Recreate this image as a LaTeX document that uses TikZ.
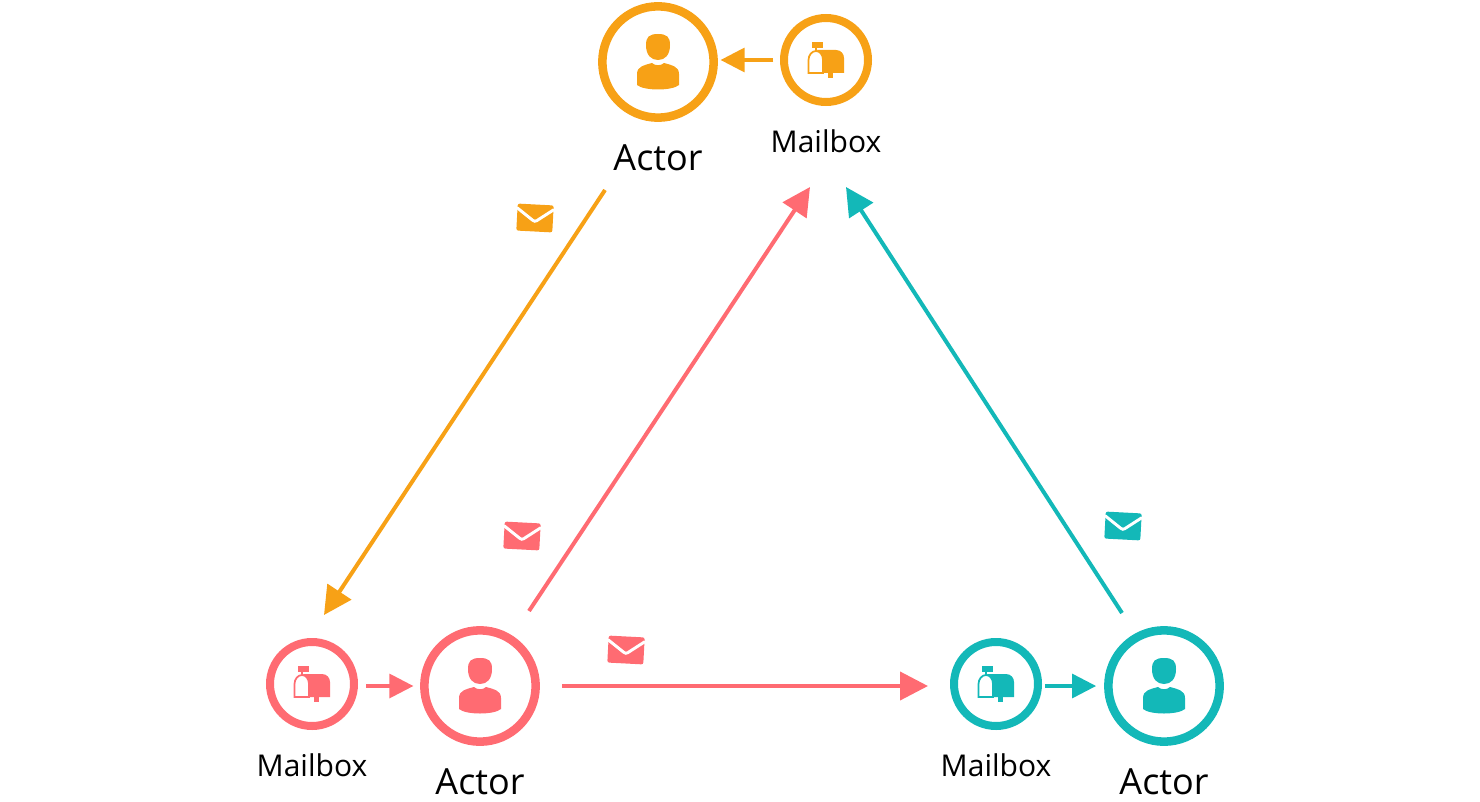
\documentclass[tikz,border=0pt]{standalone}
\usepackage{fontspec}
\setmainfont{Open Sans}
\usetikzlibrary{arrows.meta, positioning}
\definecolor{mailorange}{HTML}{F7A116}
\definecolor{mailred}{HTML}{FF6B72}
\definecolor{mailteal}{HTML}{13B8B8}

\begin{document}
\begin{tikzpicture}[
    x=0.75pt, y=-0.75pt,
    actornode/.style={circle, draw=#1, line width=6.4pt, minimum size=83.5pt, inner sep=0pt},
    boxnode/.style={circle, draw=#1, line width=6pt, minimum size=63pt, inner sep=0pt},
    actortext/.style={font=\fontsize{27}{27}\selectfont, inner sep=0pt},
    boxtext/.style={font=\fontsize{22.5}{22.5}\selectfont, inner sep=0pt},
    bigarrow/.style={-{Triangle[length=21pt, width=21pt]}, line width=3pt, draw=#1},
    smallarrow/.style={-{Triangle[length=18pt, width=18pt]}, line width=2.4pt, draw=#1},
    pics/personicon/.style={code={
        \fill[#1] (0,-28) .. controls (9,-28) and (12,-25) .. (12,-17)
            .. controls (12,-7) and (7,-2) .. (0,-2)
            .. controls (-7,-2) and (-12,-7) .. (-12,-17)
            .. controls (-12,-25) and (-9,-28) .. (0,-28) -- cycle;
        \fill[#1] (-21,23) .. controls (-14,29) and (14,29) .. (21,23)
            -- (21,12) .. controls (21,4) and (13,3) .. (6,1)
            .. controls (3,4) and (-3,4) .. (-6,1)
            .. controls (-13,3) and (-21,4) .. (-21,12) -- cycle;
    }},
    pics/boxicon/.style={code={
        \fill[#1] (-14,-18) rectangle (-3,-12);
        \fill[#1] (-11,-12) rectangle (-9,-9);
        \draw[#1, line width=1.3pt] (-17.5,13) -- (-17.5,0) .. controls (-17.5,-5) and (-14,-9) .. (-10,-9)
            .. controls (-6,-9) and (-3,-5) .. (-3,0) -- (-3,13) -- cycle;
        \fill[#1] (-10,-10) -- (10,-10) .. controls (15,-10) and (18,-6) .. (18,-2)
            -- (18,13) -- (-3,13) -- (-3,0) .. controls (-3,-5) and (-6,-9) .. (-10,-10) -- cycle;
        \fill[#1] (2,13) rectangle (7,18);
    }},
    pics/mailicon/.style={code={
        \begin{scope}[rotate=-3]
        \fill[#1, rounded corners=1.5pt] (-18,-13.5) rectangle (18,13.5);
        \draw[white, line width=2.2pt, line cap=round] (-18,-9) -- (-2,2.5)
            .. controls (-0.5,3.5) and (0.5,3.5) .. (2,2.5) -- (18,-9);
        \end{scope}
    }}
]
    \useasboundingbox (0,0) rectangle (1480,802);

    % Top: orange actor
    \node[actornode=mailorange] (topactor) at (658,62) {};
    \node[boxnode=mailorange] (topbox) at (826,60) {};
    \node[actortext, below=17pt of topactor] (topactorname) {Actor};
    \node[boxtext, below=17.5pt of topbox] (topboxname) {Mailbox};

    % Bottom left: red actor
    \node[actornode=mailred] (redactor) at (480,686) {};
    \node[boxnode=mailred] (redbox) at (312,684) {};
    \node[actortext, below=17pt of redactor] (redactorname) {Actor};
    \node[boxtext, below=17.5pt of redbox] (redboxname) {Mailbox};

    % Bottom right: teal actor
    \node[actornode=mailteal] (tealactor) at (1164,686) {};
    \node[boxnode=mailteal] (tealbox) at (996,684) {};
    \node[actortext, below=17pt of tealactor] (tealactorname) {Actor};
    \node[boxtext, below=17.5pt of tealbox] (tealboxname) {Mailbox};

    % Icons
    \pic at (topactor) {personicon=mailorange};
    \pic at (redactor) {personicon=mailred};
    \pic at (tealactor) {personicon=mailteal};
    \pic at (topbox) {boxicon=mailorange};
    \pic at (redbox) {boxicon=mailred};
    \pic at (tealbox) {boxicon=mailteal};
    \pic at (535,218) {mailicon=mailorange};
    \pic at (522,536) {mailicon=mailred};
    \pic at (626,650) {mailicon=mailred};
    \pic at (1123,526) {mailicon=mailteal};

    % Free ends of the long arrows
    \coordinate (orangestart) at (605,190);
    \coordinate (orangeend) at (324,615);
    \coordinate (redstart) at (529,611);
    \coordinate (redend) at (810,187);
    \coordinate (tealstart) at (1122,613);
    \coordinate (tealend) at (846,187);

    % Arrows
    \draw[smallarrow=mailorange, shorten <=5pt, shorten >=2pt] (topbox.west) -- (topactor.east |- topbox.west);
    \draw[smallarrow=mailred, shorten <=6pt, shorten >=5pt] (redbox.east |- redactor.west) -- (redactor.west);
    \draw[smallarrow=mailteal, shorten <=2.5pt, shorten >=6pt] (tealbox.east |- tealactor.west) -- (tealactor.west);
    \draw[bigarrow=mailred, shorten <=16.5pt, shorten >=16.5pt] (redactor.east) -- (tealbox.west |- redactor.east);
    \draw[bigarrow=mailorange] (orangestart) -- (orangeend);
    \draw[bigarrow=mailred] (redstart) -- (redend);
    \draw[bigarrow=mailteal] (tealstart) -- (tealend);

\end{tikzpicture}
\end{document}
